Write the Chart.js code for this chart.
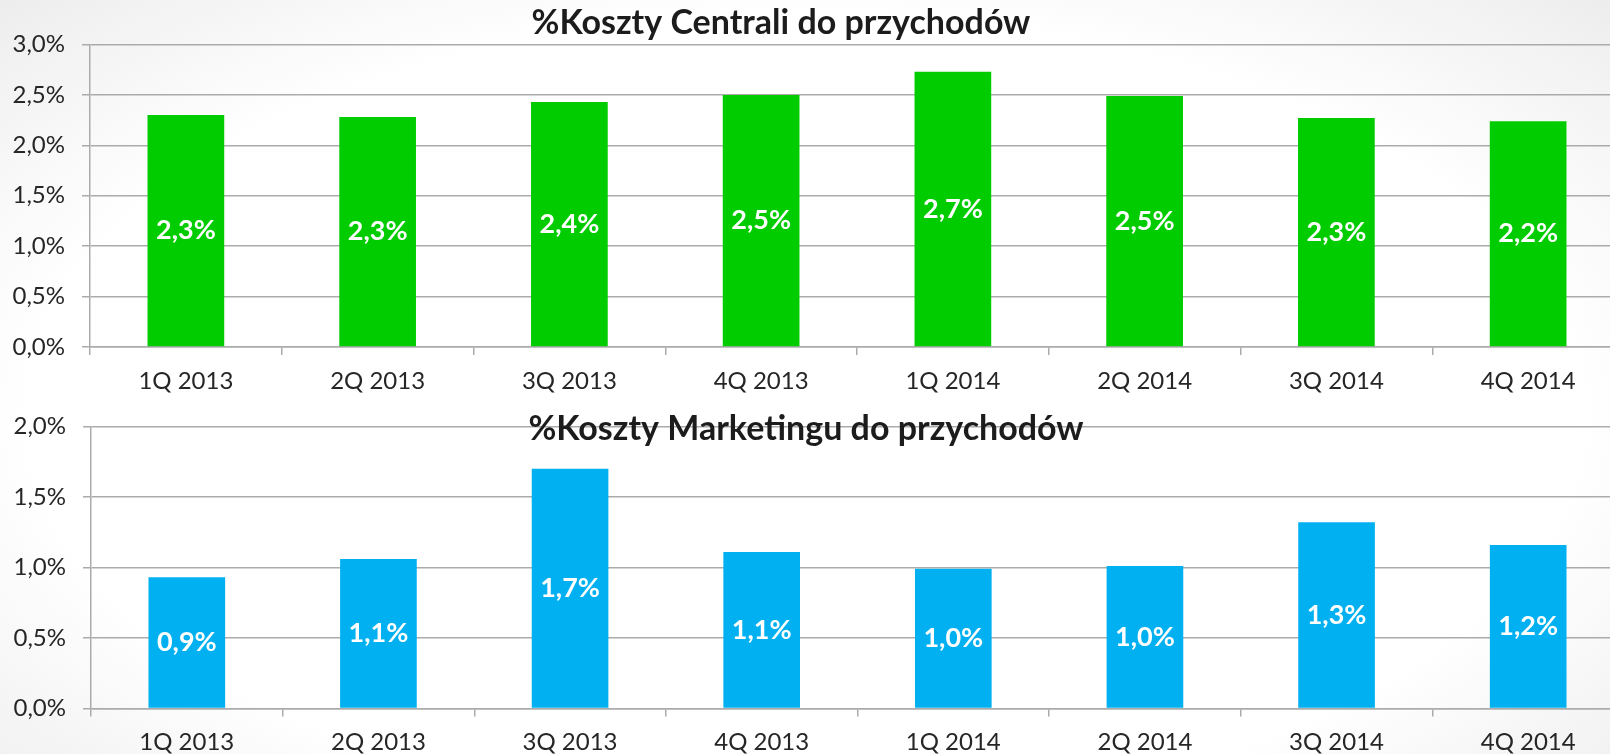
<!DOCTYPE html>
<html>
<head>
<meta charset="utf-8">
<script src="https://cdn.jsdelivr.net/npm/chart.js@4.4.1/dist/chart.umd.min.js"></script>
<style>
  html, body {
    margin: 0;
    padding: 0;
    width: 1610px;
    height: 754px;
    overflow: hidden;
    background: radial-gradient(ellipse at 50% 55%, #ffffff 68%, #ededed 100%);
  }
  .box {
    position: absolute;
    left: 0;
    width: 1640px;
  }
  #topBox { top: 0; height: 395px; }
  #bottomBox { top: 395px; height: 359px; }
</style>
</head>
<body>
<div class="box" id="topBox"><canvas id="centralaChart"></canvas></div>
<div class="box" id="bottomBox"><canvas id="marketingChart"></canvas></div>

<script>
const quarters = ["1Q 2013", "2Q 2013", "3Q 2013", "4Q 2013", "1Q 2014", "2Q 2014", "3Q 2014", "4Q 2014"];

// % of revenue
const centralaValues = [2.30, 2.28, 2.43, 2.50, 2.73, 2.49, 2.27, 2.24];
const marketingValues = [0.93, 1.06, 1.70, 1.11, 0.99, 1.01, 1.32, 1.16];

const centralaTicks = [0, 0.5, 1.0, 1.5, 2.0, 2.5, 3.0];
const marketingTicks = [0, 0.5, 1.0, 1.5, 2.0];

const centralaTitle = "%Koszty Centrali do przychodów";
const marketingTitle = "%Koszty Marketingu do przychodów";

const gridColor = "#ababab";
const textColor = "#262626";

Chart.defaults.font.family = "Lato, 'Open Sans', sans-serif";
Chart.defaults.color = textColor;

function pct(v) {
  return v.toFixed(1).replace(".", ",") + "%";
}

// white labels in the middle of every bar
const barLabels = {
  id: "barLabels",
  afterDatasetsDraw(chart) {
    var ctx = chart.ctx;
    var meta = chart.getDatasetMeta(0);
    var data = chart.data.datasets[0].data;
    ctx.save();
    ctx.fillStyle = "#ffffff";
    ctx.font = "bold 27px Lato, sans-serif";
    ctx.textAlign = "center";
    ctx.textBaseline = "middle";
    for (var i = 0; i < meta.data.length; i++) {
      var bar = meta.data[i];
      ctx.fillText(pct(data[i]), bar.x, (bar.y + bar.base) / 2);
    }
    ctx.restore();
  },
};

// title drawn over the plot, like in the slide
const chartTitle = {
  id: "chartTitle",
  afterDraw(chart, args, opts) {
    var ctx = chart.ctx;
    ctx.save();
    ctx.fillStyle = "#1c1c1c";
    ctx.font = "bold 34px Lato, sans-serif";
    ctx.textAlign = "center";
    ctx.textBaseline = "alphabetic";
    ctx.fillText(opts.text, opts.x, opts.y);
    ctx.restore();
  },
};

function makeChart(canvasId, values, ticks, color, title, cfg) {
  const data = {
    labels: quarters,
    datasets: [
      {
        data: values,
        backgroundColor: color,
        borderWidth: 0,
        barPercentage: 0.4,
        categoryPercentage: 1.0,
      },
    ],
  };

  const config = {
    type: "bar",
    data: data,
    plugins: [barLabels, chartTitle],
    options: {
      responsive: true,
      maintainAspectRatio: false,
      animation: false,
      layout: {
        padding: { top: cfg.top, right: 16, bottom: 0, left: 0 },
      },
      plugins: {
        legend: { display: false },
        tooltip: { enabled: false },
        chartTitle: { text: title, x: cfg.titleX, y: cfg.titleY },
      },
      scales: {
        x: {
          grid: {
            drawOnChartArea: false,
            drawTicks: true,
            tickLength: 8,
            color: gridColor,
            lineWidth: 1.5,
          },
          border: { color: gridColor, width: 1.5 },
          ticks: {
            font: { size: 24 },
            color: textColor,
            padding: cfg.xPad,
            maxRotation: 0,
          },
          afterFit: function (s) {
            s.height = cfg.xHeight;
          },
        },
        y: {
          min: 0,
          max: ticks[ticks.length - 1],
          afterBuildTicks: function (s) {
            s.ticks = ticks.map(function (v) {
              return { value: v };
            });
          },
          grid: {
            color: gridColor,
            lineWidth: 1.5,
            tickLength: 8,
          },
          border: { color: gridColor, width: 1.5 },
          ticks: {
            font: { size: 24 },
            color: textColor,
            padding: 17,
            callback: function (v) {
              return pct(v);
            },
          },
          afterFit: function (s) {
            s.width = cfg.yWidth;
          },
        },
      },
    },
  };

  return new Chart(document.getElementById(canvasId), config);
}

const centralaChart = makeChart("centralaChart", centralaValues, centralaTicks, "#00cc00", centralaTitle, {
  top: 44.5,
  xHeight: 48,
  xPad: 12,
  yWidth: 90,
  titleX: 781,
  titleY: 34,
});

const marketingChart = makeChart("marketingChart", marketingValues, marketingTicks, "#00b0f0", marketingTitle, {
  top: 27.5,
  xHeight: 45.5,
  xPad: 11,
  yWidth: 91,
  titleX: 806,
  titleY: 45,
});
</script>
</body>
</html>
